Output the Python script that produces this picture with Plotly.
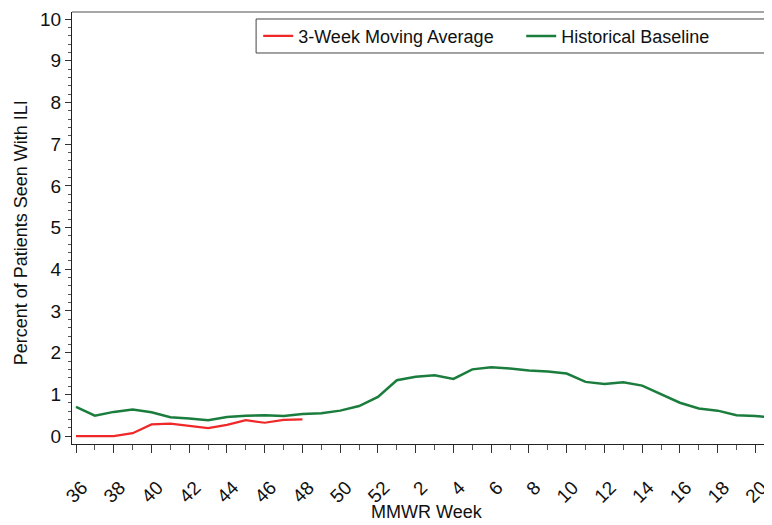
import plotly.graph_objects as go

# MMWR weeks shown on the axis (season runs week 36 through week 21 of the next year)
weeks = [36, 37, 38, 39, 40, 41, 42, 43, 44, 45, 46, 47, 48, 49, 50, 51, 52,
         1, 2, 3, 4, 5, 6, 7, 8, 9, 10, 11, 12, 13, 14, 15, 16, 17, 18, 19, 20, 21]

moving_avg = [0.0, 0.0, 0.0, 0.07, 0.28, 0.30, 0.25, 0.19, 0.27, 0.38, 0.32, 0.39, 0.40]

baseline = [0.70, 0.49, 0.58, 0.64, 0.57, 0.45, 0.42, 0.38, 0.46, 0.49, 0.50, 0.48,
            0.53, 0.55, 0.61, 0.72, 0.94, 1.34, 1.42, 1.46, 1.37, 1.60, 1.65, 1.62,
            1.57, 1.55, 1.50, 1.30, 1.25, 1.29, 1.21, 1.00, 0.80, 0.66, 0.61, 0.50,
            0.48, 0.44]

x_idx = list(range(len(weeks)))
tick_idx = [i for i, w in enumerate(weeks) if w % 2 == 0]
tick_txt = [str(weeks[i]) for i in tick_idx]

font = "Liberation Sans, Arial, sans-serif"

fig = go.Figure()
fig.add_trace(go.Scatter(
  x=x_idx[:len(moving_avg)], y=moving_avg, mode="lines",
  name="3-Week Moving Average", line=dict(color="#f02828", width=2.2),
))
fig.add_trace(go.Scatter(
  x=x_idx, y=baseline, mode="lines",
  name="Historical Baseline", line=dict(color="#1b7d3d", width=2.5),
))

# page body has an 8px margin, so the figure is sized to sit inside the window
fig.update_layout(
  width=764, height=517,
  margin=dict(l=64, r=0, t=4, b=81, autoexpand=False),
  paper_bgcolor="white", plot_bgcolor="white",
  font=dict(family=font, size=18, color="#111"),
  showlegend=True,
  legend=dict(
    orientation="h", x=0.266, xanchor="left", y=0.944, yanchor="middle",
    bgcolor="rgba(0,0,0,0)", borderwidth=0, entrywidth=218,
    font=dict(size=18, color="#111"),
  ),
)

fig.update_xaxes(
  range=[-0.212, 36.88], showgrid=False, zeroline=False, automargin=False,
  showline=True, linecolor="#222", linewidth=1,
  tickmode="array", tickvals=tick_idx, ticktext=tick_txt,
  tickfont=dict(size=19), ticklabeloverflow="allow",
  ticks="outside", ticklen=8, tickcolor="#333", tickangle=-45,
  ticklabelshift=6, ticklabelstandoff=16,
  minor=dict(tickmode="linear", tick0=0, dtick=1, ticks="outside", ticklen=5, tickcolor="#555"),
)
fig.update_yaxes(
  range=[-0.19, 10.17], showgrid=False, zeroline=False, automargin=False,
  showline=True, linecolor="#222", linewidth=1,
  tickmode="linear", tick0=0, dtick=1, tickfont=dict(size=19),
  ticks="outside", ticklen=6, tickcolor="#333",
  minor=dict(dtick=0.2, ticks="outside", ticklen=3, tickcolor="#555"),
)

# top frame line and legend box (box runs past the right edge like the original)
fig.add_shape(type="line", xref="paper", yref="paper", x0=0, x1=1, y0=1, y1=1,
              line=dict(color="#888", width=1.5))
fig.add_shape(type="rect", xref="paper", yref="paper", x0=0.263, x1=1.1,
              y0=0.9051, y1=0.9838, line=dict(color="#444", width=1))

fig.add_annotation(text="Percent of Patients Seen With ILI", xref="paper", yref="paper",
                   x=-0.0729, y=0.49, textangle=-90, showarrow=False,
                   xanchor="center", yanchor="middle", font=dict(size=18))
fig.add_annotation(text="MMWR Week", xref="paper", yref="paper",
                   x=0.507, y=-0.158, showarrow=False,
                   xanchor="center", yanchor="middle", font=dict(size=18))

fig.write_html("out.html")
